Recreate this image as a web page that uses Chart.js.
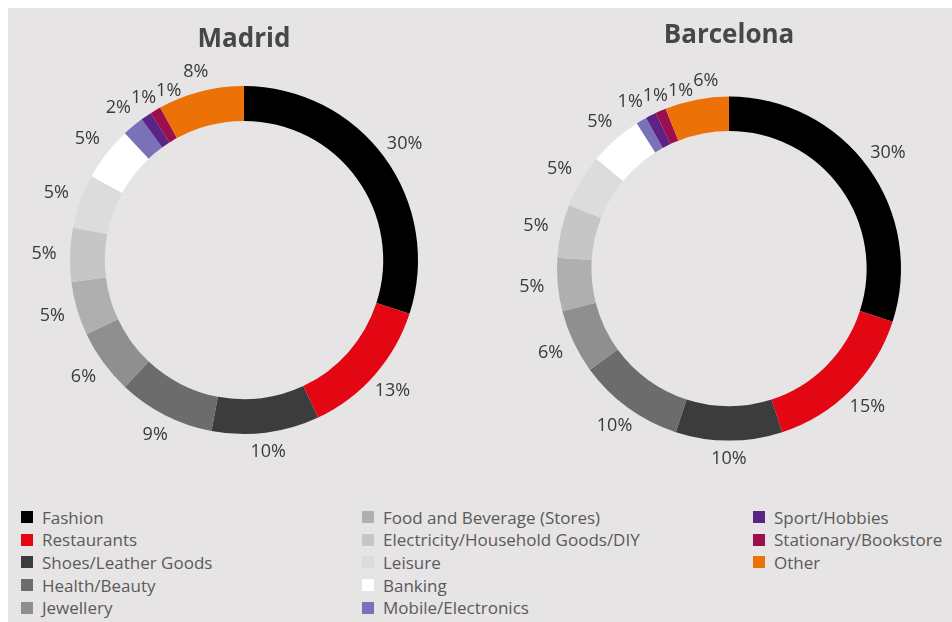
<!DOCTYPE html>
<html lang="en">
<head>
    <meta charset="UTF-8">
    <title>Madrid / Barcelona</title>
    <script src="https://cdn.jsdelivr.net/npm/chart.js"></script>
    <style>
        body {
            margin: 0;
            background: #ffffff;
            font-family: "Open Sans", Arial, sans-serif;
        }
        .panel {
            position: absolute;
            left: 8px;
            top: 8px;
            width: 944px;
            height: 614px;
            background: #e6e4e5;
        }
        .chart-box {
            position: absolute;
            top: 8px;
            width: 472px;
            height: 477px;
        }
        #legend {
            position: absolute;
            left: 21px;
            top: 506px;
            display: grid;
            grid-auto-flow: column;
            grid-template-rows: repeat(5, 22.6px);
            grid-template-columns: 341px 391px 200px;
            font-size: 17px;
            color: #5a5a5a;
        }
        .item {
            display: flex;
            align-items: center;
            white-space: nowrap;
        }
        .swatch {
            width: 12px;
            height: 12px;
            margin-right: 9px;
        }
    </style>
</head>
<body>
    <div class="panel"></div>
    <div class="chart-box" style="left: 8px;"><canvas id="madridChart"></canvas></div>
    <div class="chart-box" style="left: 480px;"><canvas id="barcelonaChart"></canvas></div>
    <div id="legend"></div>

    <script>
        const categories = [
            "Fashion", "Restaurants", "Shoes/Leather Goods", "Health/Beauty", "Jewellery",
            "Food and Beverage (Stores)", "Electricity/Household Goods/DIY", "Leisure", "Banking",
            "Mobile/Electronics", "Sport/Hobbies", "Stationary/Bookstore", "Other"
        ];
        const madridValues = [30, 13, 10, 9, 6, 5, 5, 5, 5, 2, 1, 1, 8];
        const barcelonaValues = [30, 15, 10, 10, 6, 5, 5, 5, 5, 1, 1, 1, 6];
        const colors = [
            "#000000", "#e30613", "#3c3c3c", "#6c6c6c", "#8f8f8f",
            "#afafaf", "#c6c6c6", "#dcdcdc", "#ffffff",
            "#7a72b8", "#5b2383", "#9b0f4f", "#ec7208"
        ];

        // draws the % labels round the ring, nudging small ones apart
        const outsideLabels = {
            id: "outsideLabels",
            afterDatasetsDraw(chart) {
                const ctx = chart.ctx;
                const arcs = chart.getDatasetMeta(0).data;
                const values = chart.data.datasets[0].data;
                ctx.save();
                ctx.font = "18px 'Open Sans', Arial, sans-serif";
                ctx.fillStyle = "#3a3a3a";
                ctx.textAlign = "center";
                ctx.textBaseline = "middle";
                const h = 17;
                let prev = null;
                arcs.forEach((arc, i) => {
                    const p = arc.getProps(["x", "y", "startAngle", "endAngle", "outerRadius"], true);
                    const mid = (p.startAngle + p.endAngle) / 2;
                    const text = values[i] + "%";
                    const w = ctx.measureText(text).width;
                    const r = p.outerRadius + 18 + 8 * Math.abs(Math.cos(mid));
                    let x = p.x + r * Math.cos(mid);
                    let y = p.y + r * Math.sin(mid);
                    if (prev && Math.abs(x - prev.x) < (w + prev.w) / 2 && Math.abs(y - prev.y) < h) {
                        x = prev.x + (w + prev.w) / 2;
                    }
                    ctx.fillText(text, x, y);
                    prev = { x, y, w };
                });
                ctx.restore();
            }
        };

        function createDonut(canvasId, title, values, radius, titleTop, padLeft, padBottom) {
            const ctx = document.getElementById(canvasId).getContext("2d");
            new Chart(ctx, {
                type: "doughnut",
                data: {
                    labels: categories,
                    datasets: [{
                        data: values,
                        backgroundColor: colors,
                        borderWidth: 0
                    }]
                },
                options: {
                    responsive: true,
                    maintainAspectRatio: false,
                    animation: false,
                    radius: radius,
                    cutout: "80%",
                    layout: { padding: { left: padLeft, bottom: padBottom } },
                    plugins: {
                        legend: { display: false },
                        tooltip: { enabled: false },
                        title: {
                            display: true,
                            text: title,
                            color: "#474747",
                            font: { family: "'Open Sans', Arial, sans-serif", size: 26, weight: "bold" },
                            padding: { top: titleTop, bottom: 10 }
                        }
                    }
                },
                plugins: [outsideLabels]
            });
        }

        createDonut("madridChart", "Madrid", madridValues, 174, 16, 0, 30);
        createDonut("barcelonaChart", "Barcelona", barcelonaValues, 172, 12, 26, 9);

        // legend in three columns, built from the same arrays
        const legend = document.getElementById("legend");
        categories.forEach((name, i) => {
            const item = document.createElement("div");
            item.className = "item";
            item.innerHTML = '<span class="swatch" style="background:' + colors[i] + '"></span>' + name;
            legend.appendChild(item);
        });
    </script>
</body>
</html>
